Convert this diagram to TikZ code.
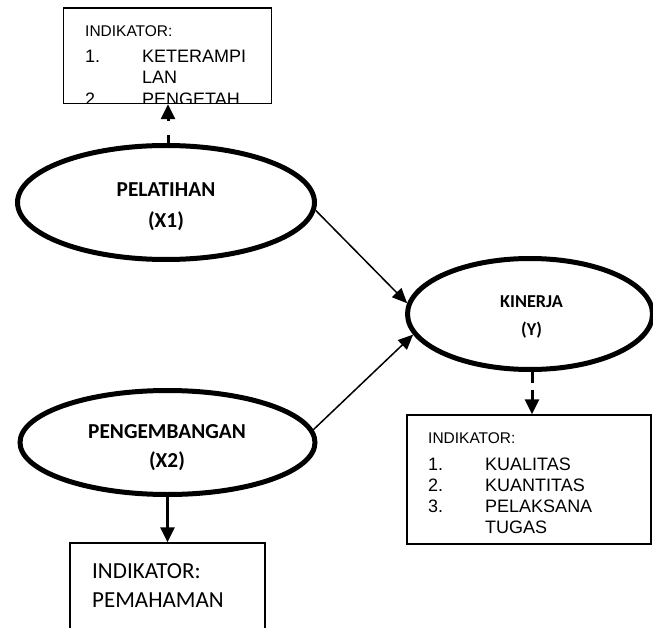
\documentclass[tikz,border=0pt]{standalone}
\usepackage{fontspec}
\setmainfont{Liberation Sans}
\newfontfamily\calfont{Carlito}
\usetikzlibrary{shapes.geometric,arrows.meta}
\tikzset{
  oval/.style={draw, ellipse, line width=5pt, inner sep=0pt},
  indbox/.style={draw, rectangle, line width=1.4pt, inner sep=0pt},
  ovaltext/.style={anchor=base, inner sep=0pt, font=\calfont\bfseries\fontsize{21.3}{25}\selectfont},
  smallovaltext/.style={anchor=base, inner sep=0pt, font=\calfont\bfseries\fontsize{18.2}{22}\selectfont},
  indhead/.style={anchor=base west, inner sep=0pt, font=\fontsize{15.5}{18}\selectfont},
  inditem/.style={anchor=base west, inner sep=0pt, font=\fontsize{18}{21}\selectfont},
  calitem/.style={anchor=base west, inner sep=0pt, font=\calfont\fontsize{23}{28}\selectfont},
  thinarrow/.style={line width=1.5pt, -{Triangle[length=15pt,width=13pt]}},
  thickarrow/.style={line width=3pt, -{Triangle[length=15pt,width=14pt]}},
}
\begin{document}
\begin{tikzpicture}[x=1pt,y=-1pt]
\useasboundingbox (0,0) rectangle (653,628);
\clip (0,0) rectangle (653,628);

% ellipses
\node[oval, minimum width=297pt, minimum height=114pt] (pel) at (166,202.5) {};
\node[oval, minimum width=295pt, minimum height=104pt] (peng) at (167.5,442.5) {};
\node[oval, minimum width=245pt, minimum height=111pt] (kin) at (530,314) {};

\node[ovaltext] (pelt1) at (166,197) {PELATIHAN};
\node[ovaltext] (pelt2) at (166,228) {(X1)};
\node[ovaltext] (pengt1) at (167,438) {PENGEMBANGAN};
\node[ovaltext] (pengt2) at (167,467) {(X2)};
\node[smallovaltext] (kint1) at (531.5,307) {KINERJA};
\node[smallovaltext] (kint2) at (531.5,335) {(Y)};

% indicator boxes
\node[indbox, minimum width=208pt, minimum height=95.5pt] (tbox) at (167.5,55.75) {};
\node[indbox, minimum width=244pt, minimum height=129pt] (kbox) at (529,479.5) {};
\node[indbox, minimum width=195pt, minimum height=130pt] (bbox) at (167.5,608) {};

% top box text (last line clipped by the box)
\begin{scope}
  \clip (64.5,9) rectangle (270.5,102.5);
  \node[indhead] (t0) at (85,37) {INDIKATOR:};
  \node[inditem] (t1) at (85,63) {1.};
  \node[inditem] (t1b) at (142,63) {KETERAMPI};
  \node[inditem] (t1c) at (142,83.5) {LAN};
  \node[inditem] (t2) at (85,105.5) {2.};
  \node[inditem] (t2b) at (142,105.5) {PENGETAH};
\end{scope}

% kinerja box text
\node[indhead] (k0) at (428,443) {INDIKATOR:};
\node[inditem] (k1) at (428,470.5) {1.};
\node[inditem] (k1b) at (485,470.5) {KUALITAS};
\node[inditem] (k2) at (428,491) {2.};
\node[inditem] (k2b) at (485,491) {KUANTITAS};
\node[inditem] (k3) at (428,512) {3.};
\node[inditem] (k3b) at (485,512) {PELAKSANA};
\node[inditem] (k3c) at (485,533) {TUGAS};

% bottom box text
\node[calitem] (b0) at (92,578) {INDIKATOR:};
\node[calitem] (b1) at (92,607) {PEMAHAMAN};

% connectors
\draw[thinarrow] (pel.-3) -- (kin.175);
\draw[thinarrow] (peng.5) -- (kin.190);
\draw[thickarrow, dash pattern=on 8pt off 14pt] ([xshift=2pt]pel.north) -- ([xshift=2pt]pel.north |- tbox.south);
\draw[thickarrow, dash pattern=on 11pt off 7pt] ([xshift=2pt]kin.south) -- ([xshift=2pt]kin.south |- kbox.north);
\draw[thickarrow] (peng.south) -- (peng.south |- bbox.north);
\end{tikzpicture}
\end{document}
